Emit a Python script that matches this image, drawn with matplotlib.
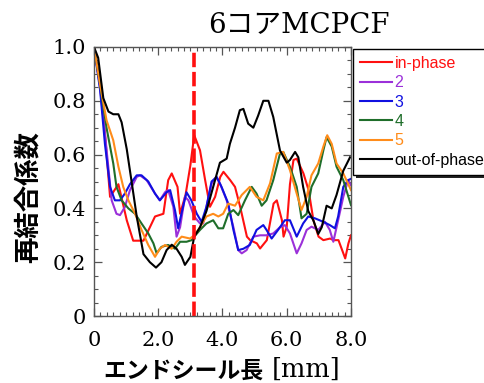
import matplotlib
matplotlib.use("Agg")
import matplotlib.pyplot as plt
from matplotlib.ticker import MultipleLocator
from matplotlib.patches import Rectangle

labels = ["in-phase", "2", "3", "4", "5", "out-of-phase"]
colors = ["#ff1010", "#9b30d9", "#1010e0", "#1f6e2a", "#ff8c1a", "#000000"]

x_red = [0, 0.19, 0.34, 0.5, 0.65, 0.76, 1.02, 1.22, 1.54, 1.74, 1.9, 2.16, 2.31, 2.42, 2.6, 2.68, 2.85, 3.0, 3.12, 3.3, 3.46, 3.61, 3.77, 3.93, 4.03, 4.24, 4.39, 4.55, 4.76, 4.86, 5.07, 5.17, 5.38, 5.59, 5.69, 5.85, 5.9, 6.0, 6.1, 6.21, 6.31, 6.52, 6.68, 6.83, 6.99, 7.14, 7.35, 7.45, 7.61, 7.82, 7.92, 8.0]
y_red = [1.0, 0.86, 0.68, 0.443, 0.47, 0.49, 0.356, 0.28, 0.28, 0.33, 0.37, 0.38, 0.505, 0.53, 0.48, 0.38, 0.45, 0.56, 0.672, 0.616, 0.505, 0.406, 0.443, 0.517, 0.536, 0.505, 0.48, 0.406, 0.295, 0.282, 0.27, 0.251, 0.282, 0.418, 0.43, 0.356, 0.295, 0.332, 0.49, 0.58, 0.585, 0.53, 0.468, 0.356, 0.295, 0.282, 0.288, 0.282, 0.282, 0.214, 0.27, 0.3]

x_2 = [0, 0.19, 0.39, 0.55, 0.7, 0.81, 0.96, 1.12, 1.33, 1.43, 1.64, 1.9, 2.05, 2.21, 2.31, 2.47, 2.57, 2.68, 2.83, 2.94, 3.12, 3.3, 3.4, 3.5, 3.66, 3.8, 3.92, 4.13, 4.34, 4.49, 4.6, 4.75, 4.96, 5.17, 5.37, 5.58, 5.79, 5.94, 6.1, 6.31, 6.46, 6.62, 6.77, 6.98, 7.19, 7.34, 7.45, 7.6, 7.76, 7.91, 8.0]
y_2 = [1.0, 0.85, 0.62, 0.43, 0.38, 0.375, 0.405, 0.468, 0.517, 0.523, 0.505, 0.455, 0.43, 0.46, 0.468, 0.406, 0.295, 0.33, 0.443, 0.43, 0.37, 0.344, 0.344, 0.406, 0.493, 0.517, 0.493, 0.43, 0.33, 0.245, 0.233, 0.245, 0.295, 0.3, 0.3, 0.307, 0.33, 0.338, 0.307, 0.233, 0.27, 0.32, 0.332, 0.32, 0.35, 0.32, 0.276, 0.356, 0.443, 0.505, 0.486]

x_3 = [0, 0.19, 0.34, 0.5, 0.65, 0.81, 0.96, 1.12, 1.33, 1.48, 1.69, 1.9, 2.05, 2.26, 2.37, 2.52, 2.62, 2.72, 2.88, 3.03, 3.2, 3.35, 3.5, 3.66, 3.82, 3.97, 4.18, 4.34, 4.49, 4.65, 4.85, 5.06, 5.27, 5.37, 5.53, 5.73, 5.94, 6.1, 6.31, 6.51, 6.67, 6.88, 7.14, 7.34, 7.5, 7.6, 7.76, 7.91, 8.0]
y_3 = [1.0, 0.84, 0.64, 0.48, 0.43, 0.43, 0.455, 0.49, 0.523, 0.523, 0.5, 0.455, 0.43, 0.46, 0.468, 0.394, 0.326, 0.38, 0.46, 0.43, 0.38, 0.35, 0.406, 0.5, 0.517, 0.48, 0.418, 0.32, 0.245, 0.25, 0.264, 0.32, 0.338, 0.32, 0.288, 0.32, 0.356, 0.356, 0.295, 0.344, 0.37, 0.363, 0.35, 0.338, 0.326, 0.37, 0.48, 0.505, 0.51]

x_4 = [0, 0.19, 0.39, 0.6, 0.7, 0.86, 1.07, 1.28, 1.48, 1.69, 1.85, 1.95, 2.1, 2.31, 2.52, 2.68, 2.88, 3.04, 3.12, 3.3, 3.5, 3.71, 3.87, 4.02, 4.18, 4.34, 4.49, 4.7, 4.91, 5.06, 5.22, 5.37, 5.58, 5.79, 5.89, 6.1, 6.31, 6.46, 6.62, 6.77, 6.98, 7.14, 7.24, 7.4, 7.55, 7.76, 8.0]
y_4 = [1.0, 0.86, 0.7, 0.567, 0.48, 0.43, 0.4, 0.38, 0.344, 0.307, 0.27, 0.233, 0.257, 0.264, 0.25, 0.276, 0.276, 0.282, 0.295, 0.32, 0.344, 0.356, 0.326, 0.326, 0.38, 0.394, 0.375, 0.43, 0.48, 0.455, 0.41, 0.43, 0.505, 0.604, 0.61, 0.555, 0.48, 0.363, 0.38, 0.48, 0.53, 0.616, 0.665, 0.63, 0.555, 0.505, 0.412]

x_5 = [0, 0.19, 0.39, 0.6, 0.76, 0.91, 1.07, 1.28, 1.48, 1.69, 1.9, 2.05, 2.21, 2.42, 2.57, 2.73, 2.99, 3.12, 3.3, 3.5, 3.71, 3.87, 4.02, 4.18, 4.39, 4.6, 4.85, 5.06, 5.27, 5.48, 5.69, 5.89, 6.1, 6.31, 6.46, 6.62, 6.77, 6.98, 7.14, 7.26, 7.4, 7.55, 7.76, 8.0]
y_5 = [1.0, 0.86, 0.728, 0.653, 0.555, 0.48, 0.43, 0.38, 0.32, 0.264, 0.22, 0.25, 0.264, 0.25, 0.276, 0.295, 0.288, 0.3, 0.33, 0.37, 0.38, 0.37, 0.38, 0.418, 0.41, 0.45, 0.48, 0.443, 0.43, 0.493, 0.604, 0.61, 0.542, 0.455, 0.394, 0.443, 0.523, 0.567, 0.63, 0.672, 0.64, 0.567, 0.53, 0.468]

x_out = [0, 0.13, 0.29, 0.45, 0.6, 0.76, 0.86, 1.02, 1.17, 1.33, 1.54, 1.74, 1.93, 2.1, 2.26, 2.42, 2.57, 2.73, 2.83, 3.0, 3.12, 3.3, 3.5, 3.71, 3.92, 4.13, 4.23, 4.39, 4.54, 4.65, 4.8, 4.96, 5.11, 5.27, 5.43, 5.58, 5.79, 6.0, 6.1, 6.26, 6.36, 6.51, 6.67, 6.83, 6.98, 7.09, 7.24, 7.4, 7.55, 7.76, 7.97]
y_out = [1.0, 0.96, 0.81, 0.76, 0.75, 0.75, 0.72, 0.62, 0.5, 0.37, 0.23, 0.2, 0.18, 0.2, 0.245, 0.265, 0.25, 0.22, 0.19, 0.22, 0.295, 0.33, 0.39, 0.48, 0.57, 0.585, 0.64, 0.7, 0.765, 0.77, 0.715, 0.7, 0.745, 0.8, 0.8, 0.74, 0.615, 0.57, 0.58, 0.61, 0.59, 0.48, 0.39, 0.355, 0.305, 0.33, 0.41, 0.4, 0.45, 0.54, 0.59]

series_x = [x_red, x_2, x_3, x_4, x_5, x_out]
series_y = [y_red, y_2, y_3, y_4, y_5, y_out]
vline_x = 3.12

x_ticks = [0, 2, 4, 6, 8]
x_ticklabels = ["0", "2.0", "4.0", "6.0", "8.0"]
y_ticks = [0, 0.2, 0.4, 0.6, 0.8, 1.0]
y_ticklabels = ["0", "0.2", "0.4", "0.6", "0.8", "1.0"]

title = "6コアMCPCF"
xlabel_jp = "エンドシール長"
xlabel_unit = "[mm]"
ylabel = "再結合係数"

serif = "DejaVu Serif"
serif_jp = [serif, "Noto Sans CJK JP"]

fig = plt.figure(figsize=(4.85, 3.83), dpi=100)
ax = fig.add_axes([0.1938, 0.1749, 0.5299, 0.7024])

for xs, ys, c, lab in zip(series_x, series_y, colors, labels):
    ax.plot(xs, ys, color=c, lw=1.5, label=lab, solid_joinstyle="round")

ax.axvline(vline_x, color="#ff1010", lw=2.6, linestyle=(0, (4, 1.3)))

ax.set_xlim(0, 8)
ax.set_ylim(0, 1.0)
ax.set_xticks(x_ticks)
ax.set_xticklabels(x_ticklabels, family=serif, fontsize=15)
ax.xaxis.set_minor_locator(MultipleLocator(0.2))
ax.set_yticks(y_ticks)
ax.set_yticklabels(y_ticklabels, family=serif, fontsize=15)
ax.yaxis.set_minor_locator(MultipleLocator(0.05))
ax.tick_params(which="both", direction="in", top=True, right=True, color="#555555")
ax.tick_params(which="major", length=6, width=0.9)
ax.tick_params(which="minor", length=3, width=0.8)
ax.tick_params(axis="x", which="major", pad=11)
ax.tick_params(axis="y", which="major", pad=6)
for s in ax.spines.values():
    s.set_color("#555555")
    s.set_linewidth(1.0)

fig.text(0.617, 0.935, title, family=serif_jp, fontsize=20, ha="center", va="center")
t1 = fig.text(0.213, 0.032, xlabel_jp, family="Noto Sans CJK JP", fontsize=16.5,
              fontweight="bold", ha="left", va="center")
fig.text(0.058, 0.485, ylabel, family="Noto Sans CJK JP", fontsize=19,
         fontweight="bold", rotation=90, ha="center", va="center")

leg = ax.legend(loc="upper left", bbox_to_anchor=(1.008, 0.993),
                frameon=False, prop={"family": "Liberation Sans", "size": 11.5},
                labelcolor="linecolor", handlelength=2.0, handletextpad=0.15,
                labelspacing=0.27, borderpad=0.45, borderaxespad=0.0)
leg.set_zorder(6)

fig.canvas.draw()
W, H = fig.bbox.width, fig.bbox.height
bb = t1.get_window_extent()
fig.text((bb.x1 + 8) / W, 0.003, xlabel_unit, family=serif, fontsize=18.5,
         ha="left", va="bottom")

lb = leg.get_window_extent()
# legend frame extending past the right figure edge, with a drop shadow
shadow = Rectangle(((lb.x0 + 3) / W, (lb.y0 - 3) / H), 300 / W, lb.height / H,
                   transform=fig.transFigure, facecolor="#222222", edgecolor="none",
                   clip_on=False, zorder=4)
frame = Rectangle((lb.x0 / W, lb.y0 / H), 300 / W, lb.height / H,
                  transform=fig.transFigure, facecolor="white", edgecolor="black",
                  linewidth=1.0, clip_on=False, zorder=5)
ax.add_patch(shadow)
ax.add_patch(frame)

fig.savefig("out.png", dpi=100)
